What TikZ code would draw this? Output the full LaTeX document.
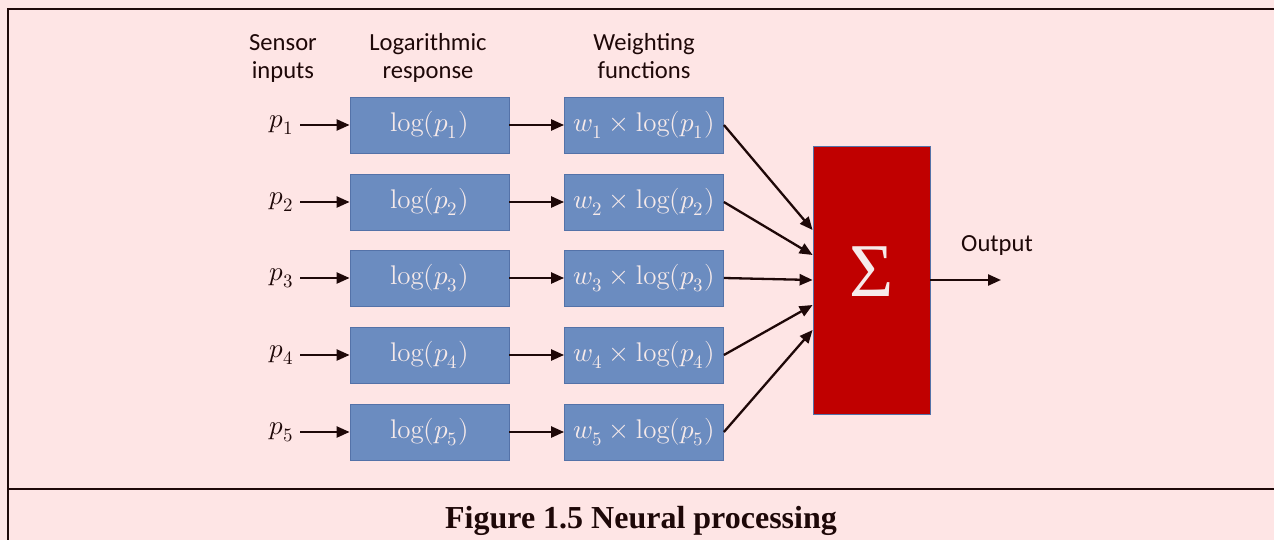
\documentclass[tikz,border=0pt]{standalone}
\usepackage{fontspec}
\usepackage{unicode-math}
\setmathfont{Latin Modern Math}
\newfontfamily\headfont{Carlito}
\newfontfamily\capfont{Liberation Serif}
\usetikzlibrary{arrows.meta}

\definecolor{bgpink}{RGB}{254,229,229}
\definecolor{boxblue}{RGB}{107,140,192}
\definecolor{edgeblue}{RGB}{84,114,168}
\definecolor{sumred}{RGB}{192,0,0}
\definecolor{inkdark}{RGB}{30,8,8}
\definecolor{paletext}{RGB}{246,234,234}

\tikzset{
  stage/.style={rectangle,draw=edgeblue,line width=0.4pt,fill=boxblue,text=paletext,
    minimum width=79.5pt,minimum height=28pt,inner sep=0pt,font=\fontsize{13.5}{15}\selectfont},
  sumbox/.style={rectangle,draw=edgeblue,line width=0.4pt,fill=sumred,text=paletext,
    minimum width=58.5pt,minimum height=134pt,inner sep=0pt,text depth=8pt,
    font=\capfont\fontsize{38}{40}\selectfont},
  flow/.style={draw=inkdark,line width=1.15pt,-{Triangle[length=6.5pt,width=5.5pt]}},
  head/.style={align=center,text=inkdark,font=\headfont\fontsize{12.3}{14}\selectfont},
  inlabel/.style={anchor=east,inner sep=3pt,text=inkdark,font=\fontsize{13.5}{15}\selectfont},
}

\begin{document}
\begin{tikzpicture}[x=0.5pt,y=-0.5pt]
\useasboundingbox (0,0) rectangle (1274,540);
\fill[bgpink] (0,0) rectangle (1274,540);

% frame of the figure
\draw[inkdark,line width=1.3pt] (8,540) -- (8,9) -- (1274,9);
\draw[inkdark,line width=1.3pt] (8,489) -- (1274,489);

\coordinate (P1) at (300,125);
\coordinate (P2) at (300,202);
\coordinate (P3) at (300,278);
\coordinate (P4) at (300,355);
\coordinate (P5) at (300,432);
\coordinate (L1) at (429.5,125);
\coordinate (L2) at (429.5,202);
\coordinate (L3) at (429.5,278);
\coordinate (L4) at (429.5,355);
\coordinate (L5) at (429.5,432);
\coordinate (W1) at (644,125);
\coordinate (W2) at (644,202);
\coordinate (W3) at (644,278);
\coordinate (W4) at (644,355);
\coordinate (W5) at (644,432);
\coordinate (S) at (871.5,280);
\coordinate (O) at (1001,280);

% column headings
\node[head] (Hin) at (283,58.5) {Sensor\\inputs};
\node[head] (Hlog) at (428,58) {Logarithmic\\response};
\node[head] (Hw) at (644,56) {Weighting\\functions};

\node[inlabel] (in1) at (P1) {$p_1$};
\node[inlabel] (in2) at (P2) {$p_2$};
\node[inlabel] (in3) at (P3) {$p_3$};
\node[inlabel] (in4) at (P4) {$p_4$};
\node[inlabel] (in5) at (P5) {$p_5$};

\node[stage] (log1) at (L1) {$\log(p_1)$};
\node[stage] (log2) at (L2) {$\log(p_2)$};
\node[stage] (log3) at (L3) {$\log(p_3)$};
\node[stage] (log4) at (L4) {$\log(p_4)$};
\node[stage] (log5) at (L5) {$\log(p_5)$};

\node[stage] (wt1) at (W1) {$w_1\times\log(p_1)$};
\node[stage] (wt2) at (W2) {$w_2\times\log(p_2)$};
\node[stage] (wt3) at (W3) {$w_3\times\log(p_3)$};
\node[stage] (wt4) at (W4) {$w_4\times\log(p_4)$};
\node[stage] (wt5) at (W5) {$w_5\times\log(p_5)$};

\node[sumbox] (sum) at (S) {Σ};
\node[head] (out) at (997,245) {Output};

\draw[flow] (in1) -- (log1);
\draw[flow] (in2) -- (log2);
\draw[flow] (in3) -- (log3);
\draw[flow] (in4) -- (log4);
\draw[flow] (in5) -- (log5);
\draw[flow] (log1) -- (wt1);
\draw[flow] (log2) -- (wt2);
\draw[flow] (log3) -- (wt3);
\draw[flow] (log4) -- (wt4);
\draw[flow] (log5) -- (wt5);
\draw[flow] (wt1.east) -- ([yshift=25pt]sum.west);
\draw[flow] (wt2.east) -- ([yshift=12.5pt]sum.west);
\draw[flow] (wt3.east) -- (sum.west);
\draw[flow] (wt4.east) -- ([yshift=-12.5pt]sum.west);
\draw[flow] (wt5.east) -- ([yshift=-25pt]sum.west);
\draw[flow] (sum.east) -- (O);

\node[text=inkdark,font=\capfont\bfseries\fontsize{16}{18}\selectfont] (cap) at (641,521) {Figure 1.5 Neural processing};

\end{tikzpicture}
\end{document}
